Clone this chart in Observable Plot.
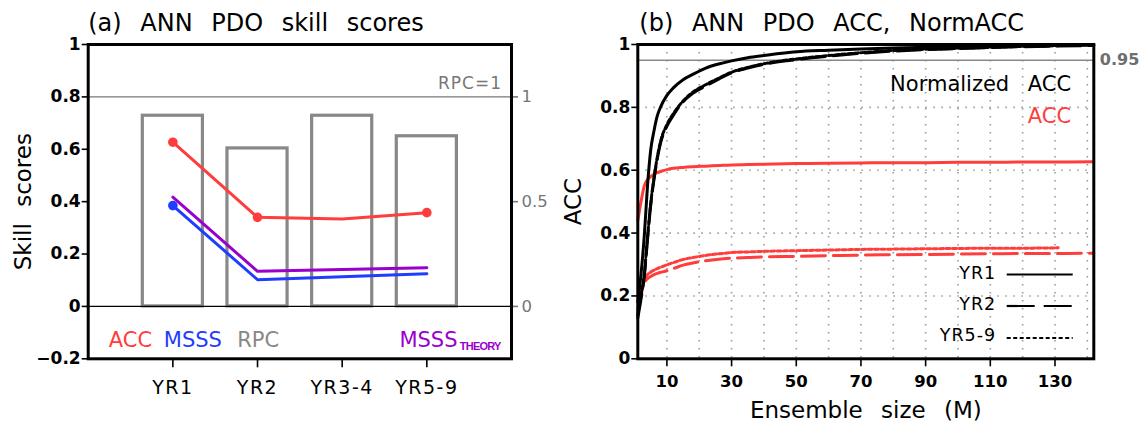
<!DOCTYPE html>
<html><head><meta charset="utf-8">
<script src="https://cdn.jsdelivr.net/npm/d3@7"></script>
<script src="https://cdn.jsdelivr.net/npm/@observablehq/plot@0.6"></script>
<style>
html,body{margin:0;padding:0;background:#fff;}
#wrap{position:relative;width:1139px;height:423px;overflow:hidden;background:#fff;font-family:"DejaVu Sans",sans-serif;}
#wrap svg{position:absolute;top:0;overflow:visible;}
</style></head><body><div id="wrap"></div>
<script>
// ---------- Panel (a) data ----------
const leadCats = ["YR1","YR2","YR3-4","YR5-9"];
const accSkill = [0.627,0.340,0.334,0.358];
const msssSkill = [0.385,0.102,0.113,0.125];
const msssTheory = [0.417,0.134,0.141,0.148];
const rpcValues = [0.91,0.754,0.91,0.812];
const accMarked = ["YR1","YR2","YR5-9"];
const msssMarked = ["YR1"];
const skillTicks = [-0.2,0,0.2,0.4,0.6,0.8,1];
const rpcTicks = [0,0.5,1];
const rpcRef = 1;
const rpcToSkill = 0.8; // right axis: RPC=1 sits at skill 0.8
const titleA = "(a) ANN PDO skill scores";
const ylabA = "Skill scores";

// ---------- Panel (b) data ----------
const ensM   = [1,2,3,4,5,6,7,8,10,12,15,18,22,26,30,35,40,50,60,70,80,90,100,110,120,130,142];
const ensM59 = [1,2,3,4,5,6,7,8,10,12,15,18,22,26,30,35,40,50,60,70,80,90,100,110,120,131];
const normYR1  = [0.18,0.27,0.39,0.55,0.665,0.725,0.772,0.80,0.838,0.862,0.888,0.905,0.925,0.938,0.948,0.958,0.965,0.977,0.982,0.986,0.989,0.991,0.993,0.995,0.996,0.997,0.998];
const normYR2  = [0.13,0.19,0.26,0.38,0.49,0.57,0.635,0.685,0.74,0.775,0.818,0.845,0.868,0.89,0.91,0.925,0.937,0.952,0.963,0.972,0.979,0.984,0.987,0.99,0.993,0.995,0.997];
const normYR59 = [0.14,0.2,0.27,0.385,0.495,0.575,0.64,0.69,0.745,0.78,0.82,0.848,0.872,0.893,0.912,0.927,0.939,0.954,0.965,0.974,0.981,0.985,0.988,0.991,0.994,0.996];
const accYR1   = [0.44,0.50,0.55,0.57,0.58,0.587,0.592,0.596,0.602,0.606,0.609,0.611,0.613,0.615,0.617,0.618,0.619,0.621,0.622,0.623,0.624,0.624,0.625,0.625,0.626,0.626,0.627];
const accYR2   = [0.15,0.205,0.24,0.255,0.262,0.268,0.272,0.275,0.28,0.287,0.298,0.305,0.312,0.317,0.32,0.322,0.324,0.326,0.328,0.33,0.331,0.332,0.333,0.334,0.335,0.335,0.336];
const accYR59  = [0.16,0.215,0.25,0.268,0.276,0.282,0.287,0.291,0.299,0.306,0.316,0.322,0.329,0.334,0.338,0.340,0.342,0.344,0.346,0.348,0.349,0.350,0.351,0.352,0.352,0.353];
const ensTicks = [10,30,50,70,90,110,130];
const ensGrid = [10,20,30,40,50,60,70,80,90,100,110,120,130,140];
const accTicks = [0,0.2,0.4,0.6,0.8,1];
const accGrid = [0.2,0.4,0.6,0.8];
const normRef = 0.95;
const titleB = "(b) ANN PDO ACC, NormACC";
const ylabB = "ACC";
const xlabB = "Ensemble size (M)";
const legendLeads = ["YR1","YR2","YR5-9"];

// ---------- styles ----------
const RED = "#ff3d3d", BLUE = "#1f3dff", PURPLE = "#9a00cc", GRAY = "#888888";
const FONT = "DejaVu Sans";
const fmt = d3.format("~g");
const wrap = document.getElementById("wrap");

// ---------- Panel (a) ----------
const rowsA = leadCats.map((cat, i) => ({cat, pos: i + 1, acc: accSkill[i], msss: msssSkill[i], theory: msssTheory[i], rpc: rpcValues[i]}));
const plotA = Plot.plot({
  width: 560, height: 423,
  marginLeft: 87.7, marginRight: 49, marginTop: 44, marginBottom: 64.7,
  style: {fontFamily: FONT, background: "transparent", overflow: "visible"},
  x: {domain: [0, leadCats.length + 1], axis: null, label: null},
  y: {domain: [-0.2, 1], axis: null, label: null},
  marks: [
    Plot.rect(rowsA, {x1: d => d.pos - 0.355, x2: d => d.pos + 0.355, y1: 0, y2: d => d.rpc * rpcToSkill, fill: "none", stroke: GRAY, strokeWidth: 3.2}),
    Plot.ruleY([rpcRef * rpcToSkill], {stroke: "#777", strokeWidth: 1.4}),
    Plot.ruleY([0], {stroke: "black", strokeWidth: 1.4}),
    Plot.line(rowsA, {x: "pos", y: "theory", stroke: PURPLE, strokeWidth: 3}),
    Plot.line(rowsA, {x: "pos", y: "msss", stroke: BLUE, strokeWidth: 3}),
    Plot.line(rowsA, {x: "pos", y: "acc", stroke: RED, strokeWidth: 3}),
    Plot.dot(rowsA.filter(d => msssMarked.includes(d.cat)), {x: "pos", y: "msss", r: 4.8, fill: BLUE}),
    Plot.dot(rowsA.filter(d => accMarked.includes(d.cat)), {x: "pos", y: "acc", r: 4.8, fill: RED}),
    Plot.axisY({ticks: skillTicks, tickFormat: fmt, tickSize: 6, tickPadding: 1.5, fontSize: 17, fontWeight: "bold", strokeWidth: 1.6, label: null}),
    Plot.axisY({anchor: "right", ticks: rpcTicks.map(r => r * rpcToSkill), tickFormat: v => fmt(+(v / rpcToSkill).toFixed(3)), tickSize: 6, tickPadding: 4, color: "#777", fontSize: 16.5, strokeWidth: 1.6, label: null}),
    Plot.axisX({ticks: rowsA.map(d => d.pos), tickFormat: p => leadCats[p - 1], tickSize: 9, tickPadding: 13, fontSize: 19, strokeWidth: 1.6, label: null}),
    Plot.frame({stroke: "black", strokeWidth: 3}),
    Plot.text([titleA], {text: d => d, frameAnchor: "top-left", dy: -13.3, textAnchor: "start", lineAnchor: "bottom", fontSize: 24}),
    Plot.text([ylabA], {text: d => d, frameAnchor: "left", dx: -65, rotate: -90, textAnchor: "middle", lineAnchor: "middle", fontSize: 23}),
    Plot.text(["RPC=1"], {text: d => d, frameAnchor: "top-right", dx: -9.5, dy: 44.3, textAnchor: "end", lineAnchor: "bottom", fontSize: 17, fill: "#777"}),
    Plot.text(["ACC"], {text: d => d, frameAnchor: "bottom-left", dx: 20.6, dy: -11.6, textAnchor: "start", lineAnchor: "bottom", fontSize: 21, fill: RED}),
    Plot.text(["MSSS"], {text: d => d, frameAnchor: "bottom-left", dx: 75.6, dy: -11.6, textAnchor: "start", lineAnchor: "bottom", fontSize: 21, fill: BLUE}),
    Plot.text(["RPC"], {text: d => d, frameAnchor: "bottom-left", dx: 149, dy: -11.6, textAnchor: "start", lineAnchor: "bottom", fontSize: 21, fill: GRAY}),
    Plot.text(["MSSS"], {text: d => d, frameAnchor: "bottom-right", dx: -54, dy: -11.6, textAnchor: "end", lineAnchor: "bottom", fontSize: 21, fill: PURPLE}),
    Plot.text(["THEORY"], {text: d => d, frameAnchor: "bottom-right", dx: -11, dy: -9, textAnchor: "end", lineAnchor: "bottom", fontSize: 11, fontWeight: "bold", fontFamily: "Liberation Sans", fill: PURPLE})
  ]
});
plotA.style.left = "0px";
wrap.appendChild(plotA);

// ---------- Panel (b) ----------
const seriesB = (ms, vals) => ms.map((m, i) => ({m, v: vals[i]}));
const lineOpts = {x: "m", y: "v", curve: "monotone-x", strokeWidth: 3, strokeLinejoin: "round"};
const plotB = Plot.plot({
  width: 579, height: 423,
  marginLeft: 77.3, marginRight: 45.7, marginTop: 44, marginBottom: 64.7,
  style: {fontFamily: FONT, background: "transparent", overflow: "visible"},
  x: {domain: [1, 142], axis: null, label: null},
  y: {domain: [0, 1], axis: null, label: null},
  marks: [
    Plot.gridX(ensGrid, {stroke: "#9a9a9a", strokeOpacity: 1, strokeWidth: 1.6, strokeDasharray: "1.5,6.5"}),
    Plot.gridY(accGrid, {stroke: "#9a9a9a", strokeOpacity: 1, strokeWidth: 1.6, strokeDasharray: "1.5,6.5"}),
    Plot.ruleY([normRef], {stroke: "#888", strokeWidth: 1.5}),
    Plot.line(seriesB(ensM, accYR1), {...lineOpts, stroke: RED}),
    Plot.line(seriesB(ensM, accYR2), {...lineOpts, stroke: RED, strokeDasharray: "24,8"}),
    Plot.line(seriesB(ensM59, accYR59), {...lineOpts, stroke: RED, strokeDasharray: "4,2.5"}),
    Plot.line(seriesB(ensM59, normYR59), {...lineOpts, stroke: "black", strokeDasharray: "4,2.5"}),
    Plot.line(seriesB(ensM, normYR2), {...lineOpts, stroke: "black", strokeDasharray: "24,8"}),
    Plot.line(seriesB(ensM, normYR1), {...lineOpts, stroke: "black"}),
    Plot.axisY({ticks: accTicks, tickFormat: fmt, tickSize: 6, tickPadding: 1.5, fontSize: 17, fontWeight: "bold", strokeWidth: 1.6, label: null}),
    Plot.axisY({anchor: "right", ticks: [normRef], tickFormat: fmt, tickSize: 0, tickPadding: 6, color: "#6e6e6e", fontSize: 16, fontWeight: "bold", label: null}),
    Plot.axisX({ticks: ensTicks, tickFormat: fmt, tickSize: 8, tickPadding: 8, fontSize: 16.5, fontWeight: "bold", strokeWidth: 1.6, label: null}),
    Plot.frame({stroke: "black", strokeWidth: 3}),
    Plot.text([titleB], {text: d => d, frameAnchor: "top-left", dx: 1.5, dy: -13.3, textAnchor: "start", lineAnchor: "bottom", fontSize: 24}),
    Plot.text([ylabB], {text: d => d, frameAnchor: "left", dx: -64.6, rotate: -90, textAnchor: "middle", lineAnchor: "middle", fontSize: 23}),
    Plot.text([xlabB], {text: d => d, frameAnchor: "bottom", dy: 59, textAnchor: "middle", lineAnchor: "bottom", fontSize: 23}),
    Plot.text(["Normalized ACC"], {text: d => d, frameAnchor: "top-right", dx: -22.6, dy: 46.7, textAnchor: "end", lineAnchor: "bottom", fontSize: 21, fill: "black"}),
    Plot.text(["ACC"], {text: d => d, frameAnchor: "top-right", dx: -22.6, dy: 78.3, textAnchor: "end", lineAnchor: "bottom", fontSize: 21, fill: RED}),
    ...legendLeads.map((lead, i) => Plot.text([lead], {text: d => d, frameAnchor: "top-right", dx: -97.6, dy: 234.3 + i * 31.2, textAnchor: "end", lineAnchor: "bottom", fontSize: 17.5}))
  ]
});
plotB.style.left = "560px";
wrap.appendChild(plotB);

// ---------- post styling (spacing) ----------
function styleText(svg, str, prop, val) {
  d3.select(svg).selectAll("text").filter(function () { return this.textContent === str; }).style(prop, val);
}
styleText(plotA, titleA, "word-spacing", "11px");
styleText(plotA, ylabA, "word-spacing", "9px");
styleText(plotA, "RPC=1", "letter-spacing", "1px");
styleText(plotA, "THEORY", "letter-spacing", "-0.8px");
leadCats.forEach(c => styleText(plotA, c, "letter-spacing", "1.5px"));
styleText(plotB, titleB, "word-spacing", "11px");
styleText(plotB, xlabB, "word-spacing", "11px");
styleText(plotB, "Normalized ACC", "word-spacing", "12px");
legendLeads.forEach(c => styleText(plotB, c, "letter-spacing", "1px"));

// legend swatches for panel (b)
const frameRightB = 579 - 45.7;
const dashes = ["none", "28,9", "4,2.5"];
const swatchY = [274.5, 306, 338];
const gl = d3.select(plotB).append("g").attr("aria-label", "legend swatches");
legendLeads.forEach((lead, i) => {
  gl.append("line")
    .attr("x1", frameRightB - 86.6).attr("x2", frameRightB - 20.6)
    .attr("y1", swatchY[i]).attr("y2", swatchY[i])
    .attr("stroke", "black").attr("stroke-width", 2.2)
    .attr("stroke-dasharray", dashes[i]);
});
</script></body></html>
